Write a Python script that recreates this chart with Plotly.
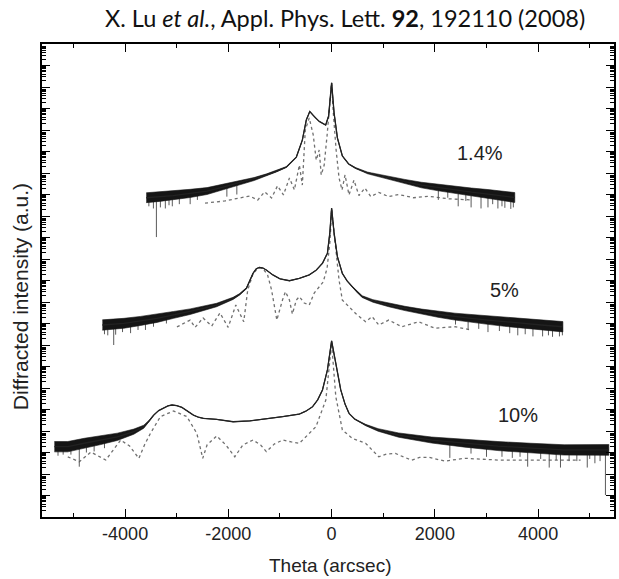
import math
import plotly.graph_objects as go

# ---------------- data (theta in arcsec, intensity in log10 decades) ----------------
# 1.4 % sample: measured (centre of the noisy band) and half-width of the noise band
m14_x = [-3590, -3330, -3070, -2740, -2413, -2100, -1779, -1500, -1260, -1070, -875, -683, -567,
         -490, -423, -337, -240, -115, -58, 0, 48, 112, 208, 330, 465, 700, 900, 1106, 1420, 1740,
         2070, 2394, 2710, 3029, 3300, 3548]
m14_y = [14.85, 14.90, 14.95, 15.05, 15.16, 15.34, 15.55, 15.72, 15.91, 16.08, 16.28, 16.74, 17.53,
         18.47, 18.86, 18.63, 18.40, 18.23, 18.65, 20.19, 18.79, 17.63, 16.79, 16.42, 16.23, 16.00,
         15.88, 15.77, 15.60, 15.44, 15.32, 15.21, 15.11, 15.02, 14.94, 14.86]
m14_noise = [0.23, 0.22, 0.21, 0.19, 0.16, 0.13, 0.10, 0.07, 0.05, 0.03, 0.02, 0, 0, 0, 0, 0, 0,
             0, 0, 0, 0, 0, 0, 0.01, 0.02, 0.04, 0.06, 0.08, 0.10, 0.13, 0.15, 0.17, 0.19, 0.21,
             0.22, 0.23]
# downward noise spikes of the 1.4 % data: position, band value, lowest value
sp14_x = [-3540, -3452, -3394, -3317, -3221, -3150, -3086, -2950, -2740, -2600, -2029, -1836,
          2067, 2250, 2452, 2600, 2702, 2894, 3029, 3120, 3221, 3300, 3356, 3471, 3520]
sp14_top = [14.86, 14.87, 14.88, 14.89, 14.91, 14.92, 14.93, 14.97, 15.05, 15.10, 15.35, 15.45,
            15.30, 15.26, 15.20, 15.14, 15.10, 15.05, 15.00, 14.98, 14.95, 14.94, 14.92, 14.88,
            14.87]
sp14_bot = [14.45, 14.35, 13.02, 14.40, 14.35, 14.50, 14.45, 14.55, 14.55, 14.75, 14.90, 15.00,
            14.75, 14.85, 14.45, 14.70, 14.40, 14.35, 14.40, 14.55, 14.35, 14.45, 14.38, 14.33,
            14.40]
# 1.4 % sample: simulation
s14_x = [-2452, -2067, -1779, -1586, -1433, -1298, -1163, -1048, -933, -817, -721, -625, -567,
         -510, -433, -356, -298, -240, -202, -144, -87, 0, 29, 87, 144, 202, 260, 337, 433, 529,
         644, 760, 913, 1106, 1298, 1586, 1875, 2260, 2702]
s14_y = [14.60, 14.70, 14.84, 14.93, 14.74, 15.12, 14.84, 15.40, 14.98, 15.77, 15.21, 16.37, 15.44,
         18.00, 18.56, 17.77, 16.60, 17.07, 15.91, 16.37, 17.77, 20.19, 18.93, 17.07, 15.77, 15.21,
         15.91, 14.98, 15.67, 14.95, 15.30, 14.90, 15.10, 14.90, 15.00, 14.85, 14.92, 14.80, 14.75]

# 5 % sample: measured
m5_x = [-4440, -4023, -3700, -3381, -3060, -2740, -2480, -2227, -1908, -1780, -1650, -1523, -1460,
        -1394, -1330, -1265, -1138, -1000, -817, -625, -433, -300, -177, -81, -35, 0, 48, 112, 208,
        300, 400, 500, 592, 800, 1106, 1420, 1746, 2060, 2388, 2700, 3029, 3350, 3669, 4060, 4480]
m5_y = [8.93, 9.01, 9.12, 9.24, 9.40, 9.55, 9.70, 9.86, 10.17, 10.36, 10.64, 11.33, 11.55,
        11.61, 11.58, 11.49, 11.26, 11.08, 10.99, 11.10, 11.26, 11.48, 11.80, 12.27, 13.20, 14.36,
        13.20, 12.11, 11.33, 10.98, 10.71, 10.45, 10.25, 10.05, 9.86, 9.70, 9.55, 9.43, 9.32, 9.24,
        9.16, 9.08, 9.01, 8.93, 8.85]
m5_noise = [0.24, 0.23, 0.21, 0.19, 0.16, 0.13, 0.10, 0.08, 0.05, 0.03, 0.02,
            0, 0, 0, 0, 0, 0, 0, 0, 0, 0, 0, 0, 0, 0, 0, 0, 0, 0,
            0.01, 0.02, 0.03, 0.04, 0.06, 0.08, 0.10, 0.12, 0.14, 0.16, 0.18, 0.20, 0.21, 0.22,
            0.23, 0.24]
sp5_x = [-4400, -4336, -4221, -4183, -4050, -3894, -3750, -3606, -3450, -3200, 2400, 2644, 2850,
         3029, 3250, 3450, 3606, 3750, 3900, 4087, 4200, 4279, 4413, 4470]
sp5_top = [8.94, 8.95, 8.97, 8.98, 9.00, 9.05, 9.10, 9.15, 9.20, 9.35, 9.32, 9.25, 9.20,
           9.16, 9.10, 9.06, 9.02, 9.00, 8.98, 8.95, 8.92, 8.90, 8.87, 8.85]
sp5_bot = [8.50, 8.45, 8.00, 8.48, 8.60, 8.55, 8.70, 8.70, 8.85, 9.00, 8.95, 8.70, 8.75,
           8.60, 8.65, 8.55, 8.45, 8.50, 8.40, 8.40, 8.45, 8.38, 8.40, 8.45]
# 5 % sample: simulation
s5_x = [-2996, -2740, -2644, -2490, -2323, -2163, -2004, -1856, -1702, -1625, -1529, -1433, -1337,
        -1240, -1163, -1061, -952, -894, -817, -760, -683, -625, -529, -433, -337, -240, -163, -87,
        -29, 0, 67, 144, 208, 337, 465, 658, 785, 913, 1106, 1361, 1683, 2004, 2388, 2702]
s5_y = [8.84, 9.16, 8.82, 9.26, 8.88, 9.49, 8.82, 9.86, 9.08, 10.56, 11.26, 11.58, 11.58,
        11.26, 10.56, 9.16, 10.09, 10.48, 10.09, 9.44, 10.09, 10.25, 9.95, 9.86, 10.42, 10.70,
        10.93, 11.58, 12.88, 14.33, 12.65, 11.02, 10.09, 9.78, 9.47, 9.08, 9.32, 8.93, 9.16, 8.85,
        9.08, 8.78, 8.85, 8.70]

# 10 % sample: measured
m10_x = [-5370, -5111, -4792, -4471, -4150, -3831, -3638, -3540, -3446, -3350, -3254, -3170, -3092,
         -3000, -2900, -2790, -2677, -2580, -2485, -2227, -1908, -1586, -1265, -946, -625, -500,
         -369, -270, -177, -81, 0, 81, 177, 260, 337, 450, 560, 658, 900, 1298, 1938, 2581, 3221,
         3861, 4504, 5370]
m10_y = [3.27, 3.27, 3.43, 3.58, 3.73, 3.97, 4.20, 4.45, 4.74, 4.95, 5.06, 5.17, 5.21,
         5.18, 5.10, 4.93, 4.74, 4.64, 4.59, 4.54, 4.43, 4.47, 4.56, 4.67, 4.79, 4.92,
         5.13, 5.45, 5.91, 6.84, 8.19, 7.15, 5.91, 5.25, 4.82, 4.55, 4.40, 4.28, 4.05, 3.81, 3.58,
         3.43, 3.30, 3.20, 3.12, 3.12]
m10_noise = [0.24, 0.24, 0.23, 0.21, 0.17, 0.12, 0.07, 0.04, 0.02,
             0, 0, 0, 0, 0, 0, 0, 0, 0, 0, 0, 0, 0, 0, 0, 0, 0, 0, 0, 0, 0, 0, 0, 0, 0, 0, 0,
             0.01, 0.03, 0.06, 0.10, 0.14, 0.18, 0.21, 0.23, 0.24, 0.25]
sp10_x = [-5300, -5200, -5050, -4888, -4750, -4600, -4400, 2290, 2700, 3000, 3300, 3500, 3650,
          3798, 4050, 4215, 4350, 4433, 4600, 4750, 4952, 5000, 5100, 5200, 5304]
sp10_top = [3.27, 3.27, 3.28, 3.35, 3.44, 3.52, 3.60, 3.50, 3.40, 3.32, 3.28, 3.25, 3.22,
            3.20, 3.18, 3.16, 3.15, 3.14, 3.13, 3.13, 3.12, 3.12, 3.12, 3.12, 3.12]
sp10_bot = [2.85, 2.90, 2.90, 2.34, 3.00, 3.05, 3.20, 2.75, 2.95, 2.80, 2.80, 2.75, 2.80,
            2.34, 2.70, 2.30, 2.65, 2.30, 2.60, 2.60, 2.30, 2.70, 2.50, 2.60, 1.02]
# 10 % sample: simulation
s10_x = [-5111, -4888, -4663, -4375, -4086, -3913, -3734, -3625, -3510, -3317, -3061, -2804, -2611,
         -2557, -2496, -2413, -2227, -2048, -1875, -1721, -1523, -1375, -1265, -1106, -946, -779,
         -625, -304, -112, 0, 81, 208, 400, 658, 779, 913, 1067, 1235, 1394, 1554, 1702, 1875, 2196,
         2581, 3221, 3861, 4823]
s10_y = [2.80, 2.57, 3.02, 2.65, 3.58, 3.30, 2.73, 3.35, 3.89, 4.67, 4.93, 4.67, 3.89,
         3.35, 2.73, 3.35, 3.77, 3.35, 2.80, 3.35, 3.58, 3.35, 3.04, 3.40, 3.58, 3.49,
         3.43, 4.20, 5.44, 8.09, 5.60, 4.05, 3.66, 3.43, 3.12, 2.80, 2.93, 2.96, 2.79, 2.65, 2.77,
         2.78, 2.60, 2.73, 2.65, 2.65, 2.65]

sample_labels = ["1.4%", "5%", "10%"]
label_x = [2875, 3356, 3606]
label_y = [16.93, 10.56, 4.74]

x_tick_vals = [-4000, -2000, 0, 2000, 4000]
x_tick_text = ["-4000", "-2000", "0", "2000", "4000"]

FONT = "Liberation Sans"

# ---------------- figure ----------------
fig = go.Figure()

measured = [(m14_x, m14_y, m14_noise), (m5_x, m5_y, m5_noise), (m10_x, m10_y, m10_noise)]
spikes = [(sp14_x, sp14_top, sp14_bot), (sp5_x, sp5_top, sp5_bot), (sp10_x, sp10_top, sp10_bot)]
simulated = [(s14_x, s14_y), (s5_x, s5_y), (s10_x, s10_y)]

for sx, sy in simulated:
    fig.add_trace(go.Scatter(x=sx, y=sy, mode="lines",
                             line=dict(color="#707070", width=1.3, dash="dot"),
                             showlegend=False, hoverinfo="skip"))

for (px, top, bot) in spikes:
    xs, ys = [], []
    for a, t, b in zip(px, top, bot):
        xs += [a, a, None]
        ys += [t, b, None]
    fig.add_trace(go.Scatter(x=xs, y=ys, mode="lines", line=dict(color="#5a5a5a", width=1),
                             showlegend=False, hoverinfo="skip"))

for mx, my, mn in measured:
    upper = [v + n for v, n in zip(my, mn)]
    lower = [v - n for v, n in zip(my, mn)]
    fig.add_trace(go.Scatter(x=mx + mx[::-1], y=upper + lower[::-1], mode="lines",
                             fill="toself", fillcolor="#151515",
                             line=dict(color="#151515", width=0.6),
                             showlegend=False, hoverinfo="skip"))
    fig.add_trace(go.Scatter(x=mx, y=my, mode="lines", line=dict(color="#222222", width=1.3),
                             showlegend=False, hoverinfo="skip"))

for t, lx, ly in zip(sample_labels, label_x, label_y):
    fig.add_annotation(x=lx, y=ly, text=t, showarrow=False,
                       font=dict(family=FONT, size=20, color="#222"))

y_major = list(range(0, 23))
y_minor = [n + math.log10(k) for n in range(22) for k in range(2, 10)]

fig.update_xaxes(range=[-5610, 5470], tickvals=x_tick_vals, ticktext=x_tick_text,
                 ticks="inside", ticklen=8, tickwidth=1.3, tickcolor="black",
                 showline=True, linecolor="black", linewidth=1.5, mirror="ticks",
                 showgrid=False, zeroline=False,
                 tickfont=dict(family=FONT, size=18, color="#222"),
                 minor=dict(tickvals=[-5000, -3000, -1000, 1000, 3000, 5000], ticks="inside",
                            ticklen=4, tickwidth=1.3, tickcolor="black", showgrid=False))
fig.update_yaxes(range=[0, 22], tickvals=y_major, showticklabels=False,
                 ticks="inside", ticklen=8, tickwidth=1.2, tickcolor="black",
                 showline=True, linecolor="black", linewidth=1.5, mirror="ticks",
                 showgrid=False, zeroline=False,
                 minor=dict(tickvals=y_minor, ticks="inside", ticklen=4, tickwidth=1,
                            tickcolor="black", showgrid=False))

fig.add_annotation(xref="paper", yref="paper", x=0.5035, y=-0.1015, yanchor="middle",
                   text="Theta (arcsec)", showarrow=False,
                   font=dict(family=FONT, size=19, color="#222"))
fig.add_annotation(xref="paper", yref="paper", x=-0.0383, y=0.465, xanchor="center",
                   yanchor="middle", textangle=-90, text="Diffracted intensity (a.u.)",
                   showarrow=False, font=dict(family=FONT, size=21, color="#222"))
fig.add_annotation(xref="paper", yref="paper", x=0.53, y=1.055, yanchor="middle",
                   text="X. Lu <i>et al.</i>, Appl. Phys. Lett. <b>92</b>, 192110 (2008)",
                   showarrow=False, font=dict(family="Lato", size=23.5, color="#111"))

fig.update_layout(width=619, height=579, margin=dict(l=42, r=3, t=44, b=62),
                  paper_bgcolor="white", plot_bgcolor="white")

fig.write_html("out.html")
